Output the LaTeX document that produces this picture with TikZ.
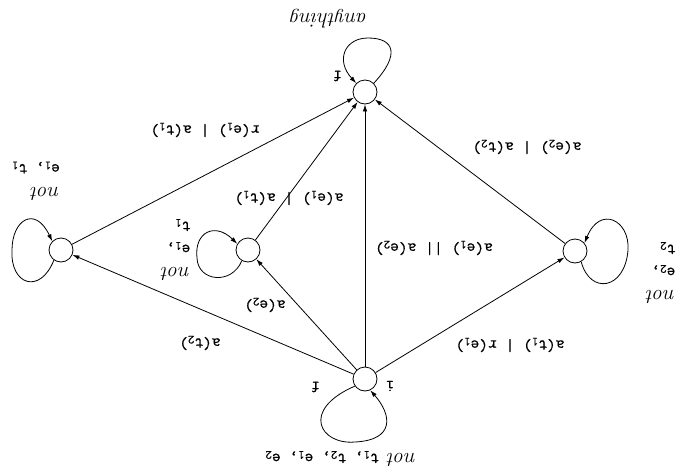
\documentclass[tikz,border=0pt]{standalone}
\usepackage{fontspec}
\usetikzlibrary{arrows.meta}
\newfontfamily\lblfont{Latin Modern Mono}[FakeBold=0.6]

\tikzset{
  every picture/.style={line width=0.8pt},
  state/.style={circle, draw, minimum size=24pt, inner sep=0pt},
  trans/.style={-{Latex[length=7pt,width=4.5pt]}},
  lbl/.style={rotate=180, inner sep=1pt, font=\fontsize{17}{19}\selectfont\lblfont},
  cond/.style={rotate=180, inner sep=1pt, align=left, font=\fontsize{17}{23}\selectfont\lblfont},
}
\newcommand{\nt}{{\fontsize{21}{23}\selectfont\rmfamily\itshape not}}
\newcommand{\sub}[1]{\raisebox{-0.35ex}{\fontsize{12.5}{12.5}\selectfont #1}}

\begin{document}
\begin{tikzpicture}[x=1pt, y=-1pt]
  \useasboundingbox (0,0) rectangle (680,474);

  % states (picture is drawn upside down)
  \node[state] (fin)  at (365,92)  {};
  \node[state] (ini)  at (365,379) {};
  \node[state] (lft)  at (61,250)  {};
  \node[state] (mid)  at (248,250) {};
  \node[state] (rgt)  at (575,251) {};

  % markers
  \node[lbl] (mf)  at (337,76)  {f};
  \node[lbl] (mi)  at (390,386) {i};
  \node[lbl] (mf2) at (315,387) {f};

  % transitions
  \draw[trans] (ini) -- (fin);
  \draw[trans] (ini) -- (lft);
  \draw[trans] (ini) -- (mid);
  \draw[trans] (ini) -- (rgt);
  \draw[trans] (lft) -- (fin);
  \draw[trans] (mid) -- (fin);
  \draw[trans] (rgt) -- (fin);

  \node[lbl] (l1) at (434,248) {a(e\sub{1}) || a(e\sub{2})};
  \node[lbl] (l2) at (510,345) {a(t\sub{1}) | r(e\sub{1})};
  \node[lbl] (l3) at (265,305) {a(e\sub{2})};
  \node[lbl] (l4) at (200,343) {a(t\sub{2})};
  \node[lbl] (l5) at (289,198) {a(e\sub{1}) | a(t\sub{1})};
  \node[lbl] (l6) at (205,130) {r(e\sub{1}) | a(t\sub{1})};
  \node[lbl] (l7) at (527,147) {a(e\sub{2}) | a(t\sub{2})};

  % self loops
  \draw[trans] (fin.45) .. controls (400,55) and (395,38) .. (368,38)
    .. controls (345,38) and (335,60) .. (fin.135);
  \draw[trans] (ini.215) .. controls (300,410) and (320,445) .. (355,442)
    .. controls (395,440) and (392,415) .. (ini.-65);
  \draw[trans] (lft.235) .. controls (40,295) and (10,285) .. (12,250)
    .. controls (12,220) and (35,205) .. (lft.135);
  \draw[trans] (mid.240) .. controls (232,285) and (198,282) .. (197,258)
    .. controls (194,232) and (215,222) .. (mid.150);
  \draw[trans] (rgt.-60) .. controls (590,295) and (625,290) .. (628,250)
    .. controls (630,220) and (600,205) .. (rgt.40);

  \node[rotate=180, font=\fontsize{21}{23}\selectfont\itshape] (any) at (329,19) {anything};
  \node[cond] (ci) at (341,459) {\nt\ t\sub{1}, t\sub{2}, e\sub{1}, e\sub{2}};
  \node[cond] (cl) at (36,181)  {\nt\\e\sub{1}, t\sub{1}};
  \node[cond] (cm) at (176,250) {\nt\\e\sub{1},\\t\sub{1}};
  \node[cond] (cr) at (661,273) {\nt\\e\sub{2},\\t\sub{2}};
\end{tikzpicture}
\end{document}
